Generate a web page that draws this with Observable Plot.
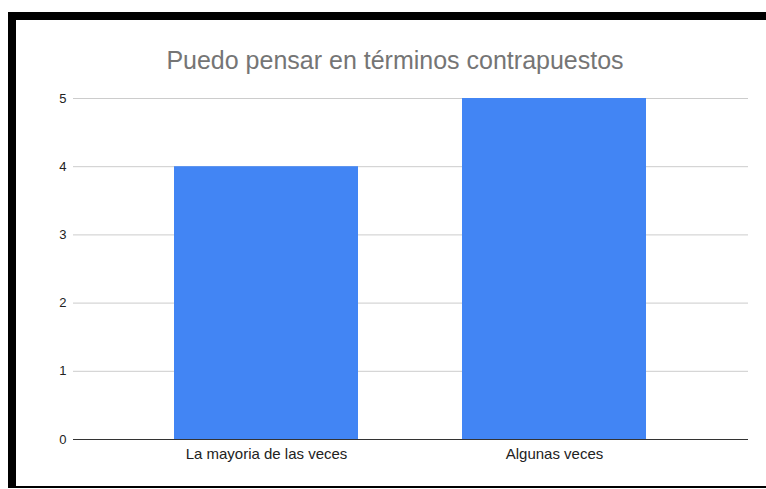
<!DOCTYPE html>
<html>
<head>
<meta charset="utf-8">
<script src="https://cdn.jsdelivr.net/npm/d3@7"></script>
<script src="https://cdn.jsdelivr.net/npm/@observablehq/plot@0.6"></script>
<style>
  html, body { margin: 0; padding: 0; background: #fff; }
  body { width: 766px; height: 489px; overflow: hidden; position: relative; font-family: Arial, "Liberation Sans", sans-serif; }
  #frame {
    position: absolute; left: 8px; top: 12px; width: 750px; height: 466px;
    border-top: 8px solid #000; border-left: 8px solid #000; border-bottom: 2px solid #000;
    background: #fff; box-sizing: content-box;
  }
  #title {
    padding-top: 26px; padding-bottom: 4px; height: 28px; line-height: 28px;
    font-size: 25px; color: #757575; text-align: center; padding-left: 8px;
    white-space: nowrap;
  }
  #chart svg { display: block; }
</style>
</head>
<body>
<div id="frame">
  <div id="title">Puedo pensar en términos contrapuestos</div>
  <div id="chart"></div>
</div>
<script>
const categories = ["La mayoria de las veces", "Algunas veces"];
const values = [4, 5];
const yTicks = [0, 1, 2, 3, 4, 5];

const data = categories.map((c, i) => ({category: c, value: values[i]}));

const chart = Plot.plot({
  width: 750,
  height: 408,
  marginLeft: 57,
  marginRight: 18,
  marginTop: 20,
  marginBottom: 47,
  style: {fontFamily: 'Arial, "Liberation Sans", sans-serif', fontSize: "13px", color: "#222", background: "#fff"},
  x: {domain: categories, paddingInner: 0.36, paddingOuter: 0.35, label: null},
  y: {domain: [0, 5], ticks: yTicks, label: null},
  marks: [
    Plot.gridY(yTicks, {stroke: "#cccccc", strokeOpacity: 1}),
    Plot.barY(data, {x: "category", y: "value", fill: "#4285f4"}),
    Plot.ruleY([0], {stroke: "#333333", strokeWidth: 1}),
    Plot.axisY(yTicks, {tickSize: 0, tickPadding: 7, label: null, fill: "#222", fontSize: 13, tickFormat: d3.format("d")}),
    Plot.axisX({tickSize: 0, tickPadding: 9, label: null, fill: "#222", fontSize: 15})
  ]
});
document.getElementById("chart").appendChild(chart);
</script>
</body>
</html>
